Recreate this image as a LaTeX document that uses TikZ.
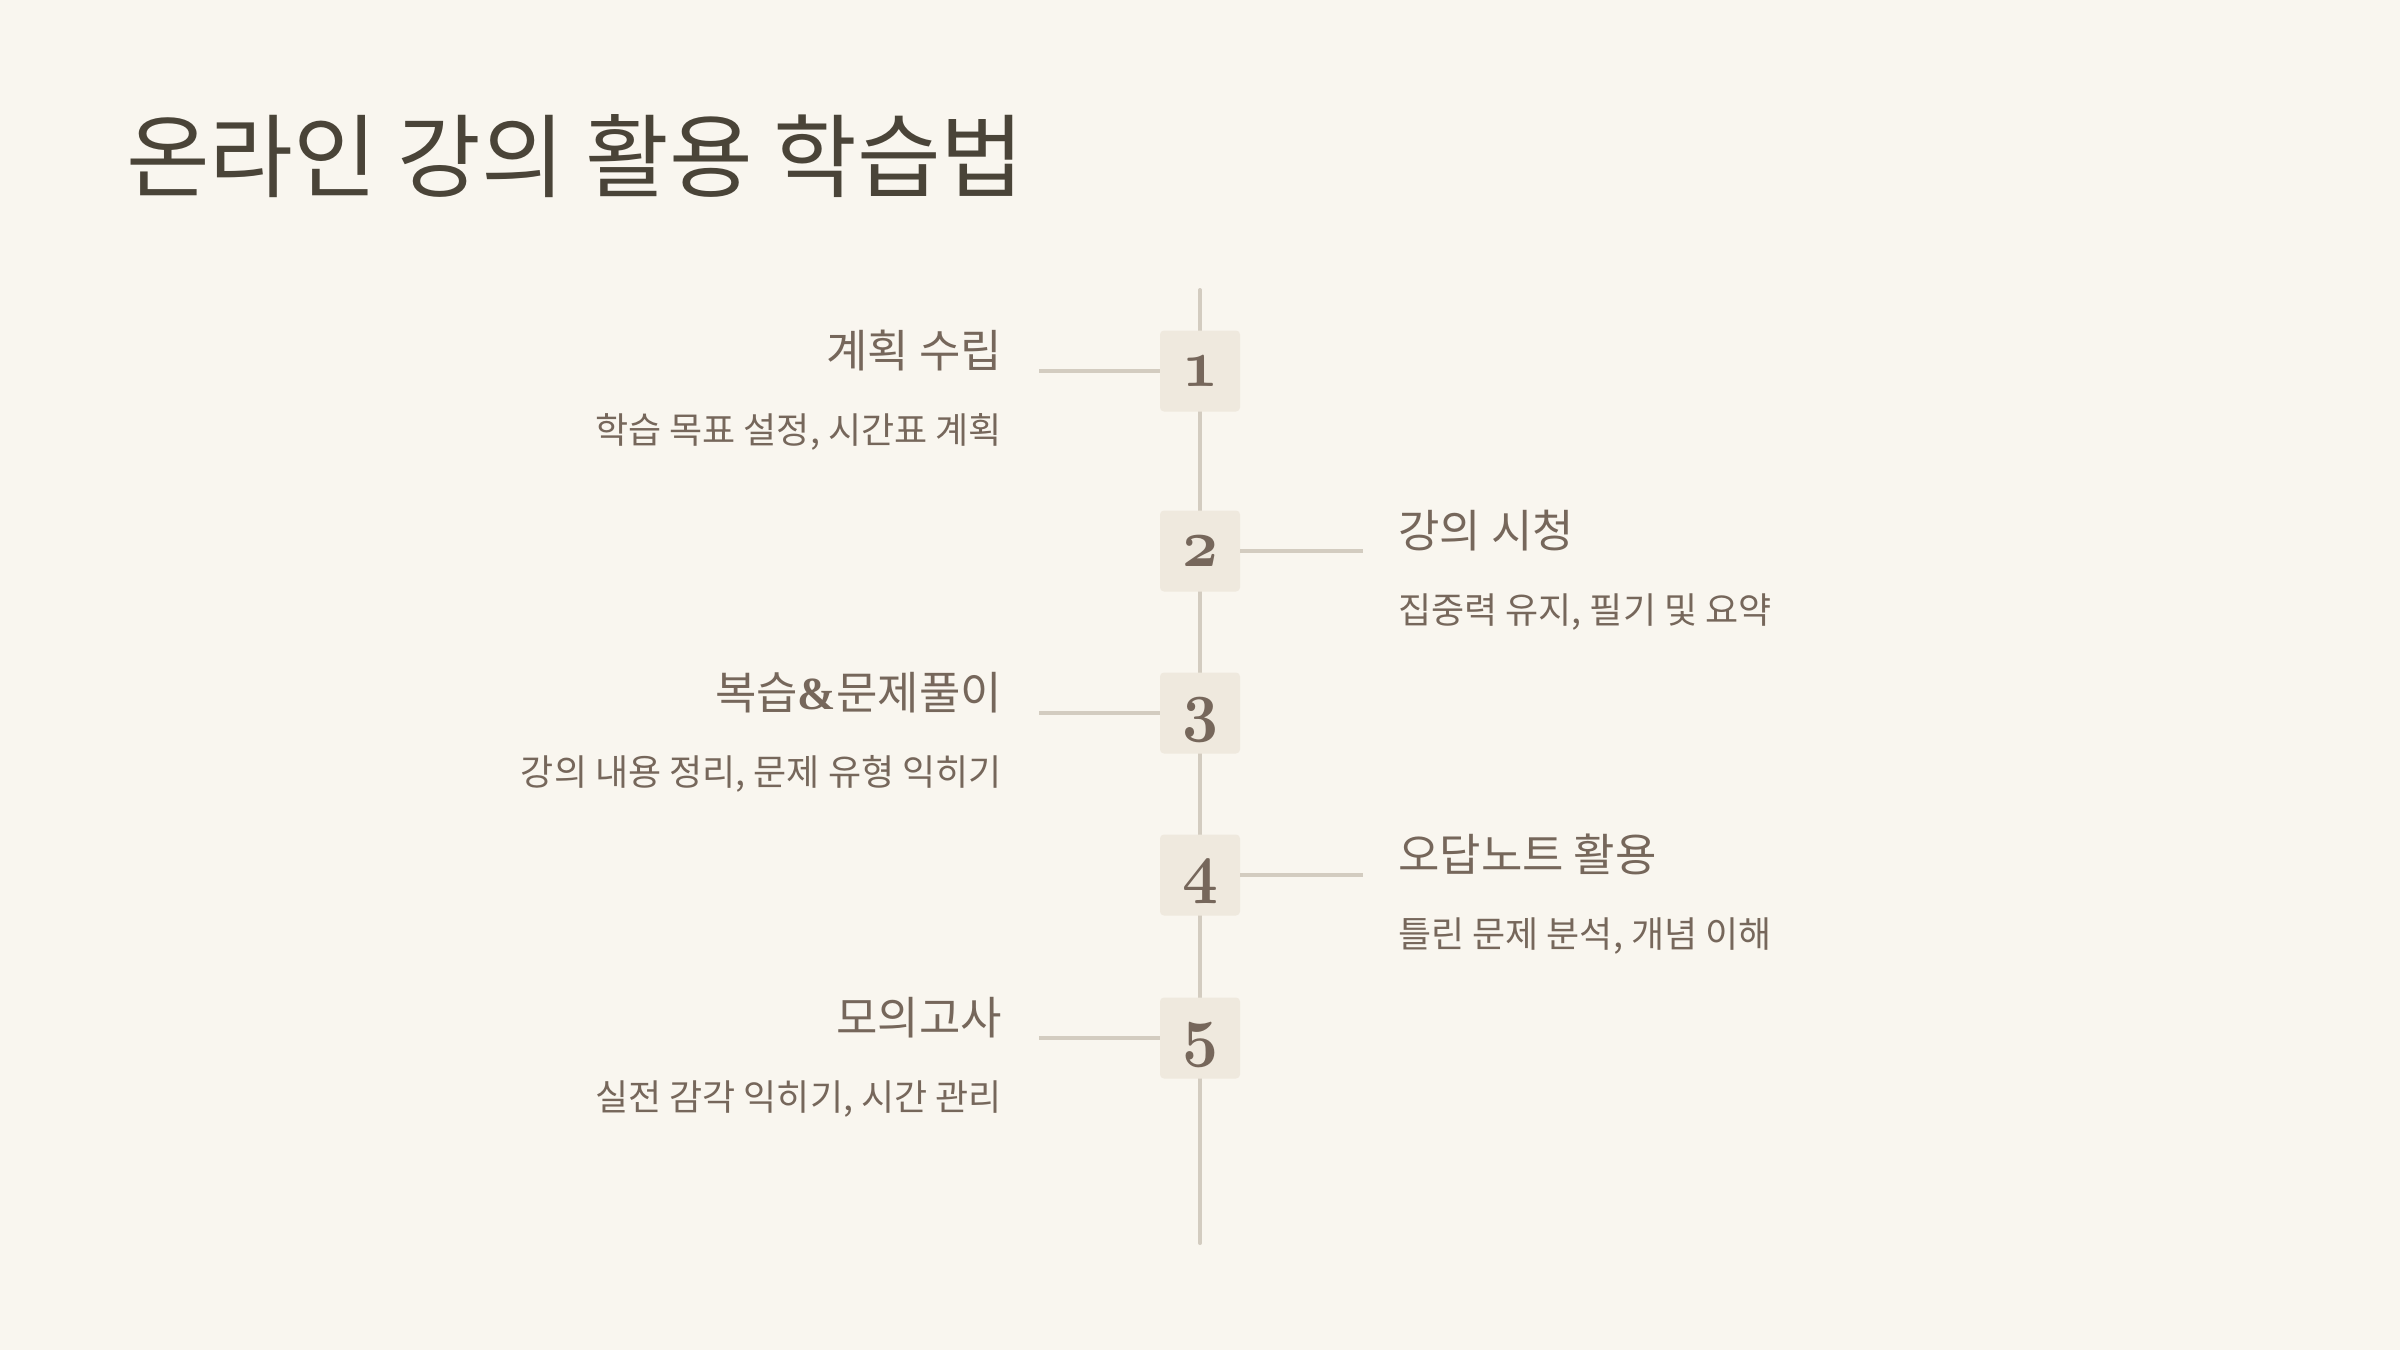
\documentclass[tikz,border=0pt]{standalone}
\usepackage{fontspec}
\newfontfamily\kr{Noto Sans CJK KR}
\newfontfamily\ampfont{Liberation Serif}
\font\numfont=cmmib10 at 68pt
\definecolor{bg}{HTML}{F9F6EF}
\definecolor{titlec}{HTML}{4A4438}
\definecolor{txt}{HTML}{76675B}
\definecolor{boxc}{HTML}{EFE9DE}
\definecolor{linec}{HTML}{D3CCC0}
\newcommand{\numtxt}[1]{\scalebox{0.92}[1]{\numfont #1}}
\tikzset{
  numbox/.style={fill=boxc, draw=none, rounded corners=4pt, minimum width=80pt, minimum height=81pt, inner sep=0pt},
  numlab/.style={anchor=base, inner sep=0pt, text=txt},
  conn/.style={draw=linec, line width=4pt, line cap=round},
  headl/.style={anchor=base east, inner sep=0pt, text=txt, font=\kr\fontsize{45}{54}\selectfont},
  subl/.style={anchor=base east, inner sep=0pt, text=txt, font=\kr\fontsize{36}{44}\selectfont},
  headr/.style={anchor=base west, inner sep=0pt, text=txt, font=\kr\fontsize{45}{54}\selectfont},
  subr/.style={anchor=base west, inner sep=0pt, text=txt, font=\kr\fontsize{36}{44}\selectfont},
}
\begin{document}
\begin{tikzpicture}[x=1pt,y=-1pt]
\fill[bg] (0,0) rectangle (2400,1350);
\useasboundingbox (0,0) rectangle (2400,1350);
% title
\node[anchor=base west, inner sep=0pt, text=titlec, font=\kr\fontsize{91}{110}\selectfont] (title) at (126,190) {온라인 강의 활용 학습법};
% spine
\coordinate (top) at (1200,290);
\coordinate (bot) at (1200,1243);
\draw[conn] (top) -- (bot);
% boxes
\node[numbox] (b1) at (1200,371) {};
\node[numbox] (b2) at (1200,551) {};
\node[numbox] (b3) at (1200,713) {};
\node[numbox] (b4) at (1200,875) {};
\node[numbox] (b5) at (1200,1038) {};
\node[numlab] (n1) at ([yshift=-15pt]b1.center) {\numtxt{1}};
\node[numlab] (n2) at ([yshift=-15pt]b2.center) {\numtxt{2}};
\node[numlab] (n3) at ([yshift=-15pt]b3.center) {\numtxt{3}};
\node[numlab] (n4) at ([yshift=-15pt]b4.center) {\numtxt{4}};
\node[numlab] (n5) at ([yshift=-15pt]b5.center) {\numtxt{5}};
% connector ends
\coordinate (e1) at (1039,371);
\coordinate (e2) at (1363,551);
\coordinate (e3) at (1039,713);
\coordinate (e4) at (1363,875);
\coordinate (e5) at (1039,1038);
\draw[conn, line cap=butt] (b1.west) -- (e1);
\draw[conn, line cap=butt] (b2.east) -- (e2);
\draw[conn, line cap=butt] (b3.west) -- (e3);
\draw[conn, line cap=butt] (b4.east) -- (e4);
\draw[conn, line cap=butt] (b5.west) -- (e5);
% texts
\node[headl] (h1) at (1002,367) {계획 수립};
\node[subl] (s1) at (1002,443) {학습 목표 설정, 시간표 계획};
\node[headr] (h2) at (1398,547) {강의 시청};
\node[subr] (s2) at (1398,623) {집중력 유지, 필기 및 요약};
\node[headl] (h3) at (1002,709) {복습{\ampfont\bfseries\fontsize{46}{54}\selectfont\&}문제풀이};
\node[subl] (s3) at (1002,785) {강의 내용 정리, 문제 유형 익히기};
\node[headr] (h4) at (1398,871) {오답노트 활용};
\node[subr] (s4) at (1398,947) {틀린 문제 분석, 개념 이해};
\node[headl] (h5) at (1002,1034) {모의고사};
\node[subl] (s5) at (1002,1110) {실전 감각 익히기, 시간 관리};
\end{tikzpicture}
\end{document}
